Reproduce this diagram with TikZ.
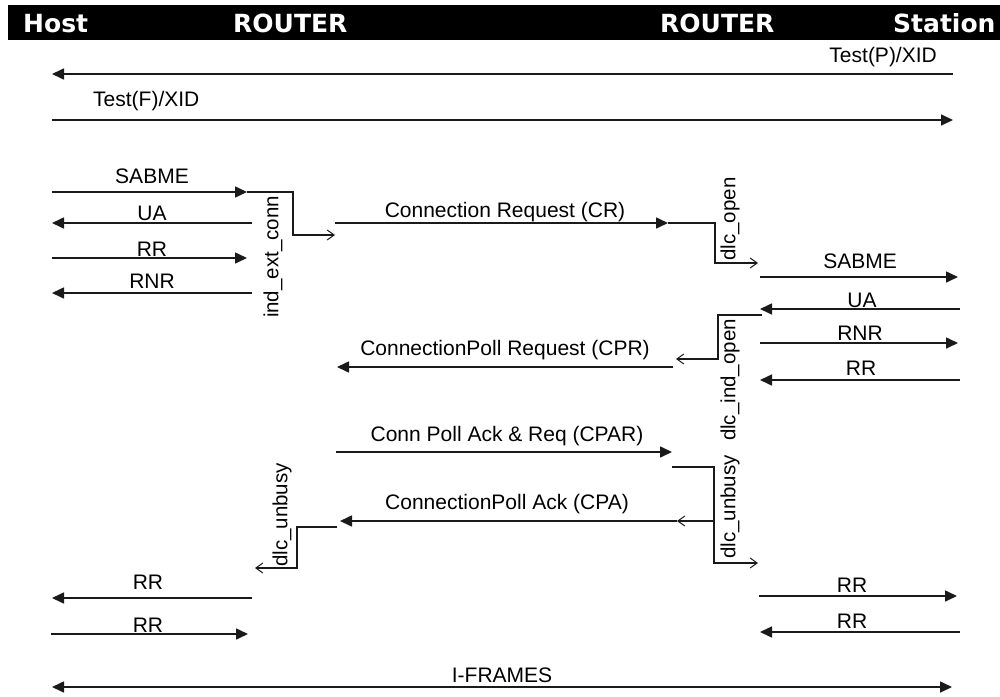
\documentclass[tikz,border=0pt]{standalone}
\usepackage{fontspec}
\setmainfont{Liberation Sans}
\newfontfamily\headfont{DejaVu Sans}
\usetikzlibrary{arrows.meta}
\definecolor{ink}{HTML}{1A1A1A}
\tikzset{
  msg/.style={-{Triangle[length=12pt,width=11pt]},line width=1.6pt,draw=ink},
  msgboth/.style={{Triangle[length=12pt,width=11pt]}-{Triangle[length=12pt,width=11pt]},line width=1.6pt,draw=ink},
  prim/.style={-{Straight Barb[length=7pt,width=10pt,line width=1pt]},line width=1.2pt,draw=ink},
  lab/.style={inner sep=0pt,font=\fontsize{21}{25}\selectfont},
  vlab/.style={rotate=90,inner sep=0pt,font=\fontsize{20.5}{24}\selectfont},
  head/.style={anchor=base west,inner sep=0pt,text=white,font=\headfont\bfseries\fontsize{25}{30}\selectfont}
}

\begin{document}
\begin{tikzpicture}[x=1pt,y=-1pt]
  \useasboundingbox (0,0) rectangle (1000,696);
  % header bar
  \fill[black] (8,5) rectangle (1000,40);
  \node[head] (host) at (23,32) {Host};
  \node[head] (routerA) at (233,32) {ROUTER};
  \node[head] (routerB) at (660,32) {ROUTER};
  \node[head] (station) at (893,32) {Station};
  % messages: name/from/to/y/label x/label gap/anchor/text
  \foreach \nm/\xa/\xb/\y/\lx/\gap/\an/\lab in {%
      tp/953/52/74/937/12/base east/{Test(P)/XID},%
      tf/52/953/120/93/14/base west/{Test(F)/XID},%
      sabmeA/52/247/192/152/9/base/SABME,%
      uaA/252/52/223/152/3/base/UA,%
      rrA/52/247/258/152/2/base/RR,%
      rnrA/252/52/293/152/5/base/RNR,%
      cr/335/668/223/505/6/base/{Connection Request (CR)},%
      sabmeB/760/958/277/860/9/base/SABME,%
      uaB/960/760/309/862/2/base/UA,%
      rnrB/760/958/343/860/3/base/RNR,%
      rrB/960/760/380/861/5/base/RR,%
      cpr/673/337/367/505/12/base/{ConnectionPoll Request (CPR)},%
      cpar/336/672/452/507/11/base/{Conn Poll Ack \& Req (CPAR)},%
      cpa/677/340/521/507/12/base/{ConnectionPoll Ack (CPA)},%
      rrC/252/52/598/148/9/base/RR,%
      rrD/51/248/634/148/2/base/RR,%
      rrE/759/957/596/852/4/base/RR,%
      rrF/960/760/632/852/4/base/RR}{
    \coordinate (\nm-a) at (\xa,\y);
    \coordinate (\nm-b) at (\xb,\y);
    \draw[msg] (\nm-a) -- (\nm-b);
    \node[lab,anchor=\an] (\nm-lab) at (\lx,\y-\gap) {\lab};
  }
  \coordinate (ifa) at (52,687);
  \coordinate (ifb) at (952,687);
  \draw[msgboth] (ifa) -- (ifb);
  \node[lab,anchor=base] (iflab) at (502,682) {I-FRAMES};
  % primitives
  \coordinate (iecend) at (335,235);
  \draw[prim] (sabmeA-b) -- ++(46,0) |- (iecend);
  \node[vlab] (iec) at (273,257) {ind\_ext\_conn};
  \coordinate (openend) at (758,263);
  \draw[prim] (cr-b) -- ++(47,0) |- (openend);
  \node[vlab] (dlcopen) at (730,219) {dlc\_open};
  \coordinate (indstart) at (762,315);
  \coordinate (indend) at (676,359);
  \draw[prim] (indstart) -- ++(-44,0) |- (indend);
  \node[vlab] (dlcind) at (730,380) {dlc\_ind\_open};
  \coordinate (ubstart) at (672,467);
  \coordinate (ubend) at (758,563);
  \coordinate (ubjoin) at (714,521);
  \draw[prim] (ubstart) -- ++(42,0) |- (ubend);
  \draw[prim] (ubjoin) -- (cpa-a);
  \node[vlab] (unbusyB) at (730,507) {dlc\_unbusy};
  \coordinate (ubleft) at (337,527);
  \coordinate (ubleftend) at (255,568);
  \draw[prim] (ubleft) -- ++(-40,0) |- (ubleftend);
  \node[vlab] (unbusyA) at (282,515) {dlc\_unbusy};
\end{tikzpicture}
\end{document}
